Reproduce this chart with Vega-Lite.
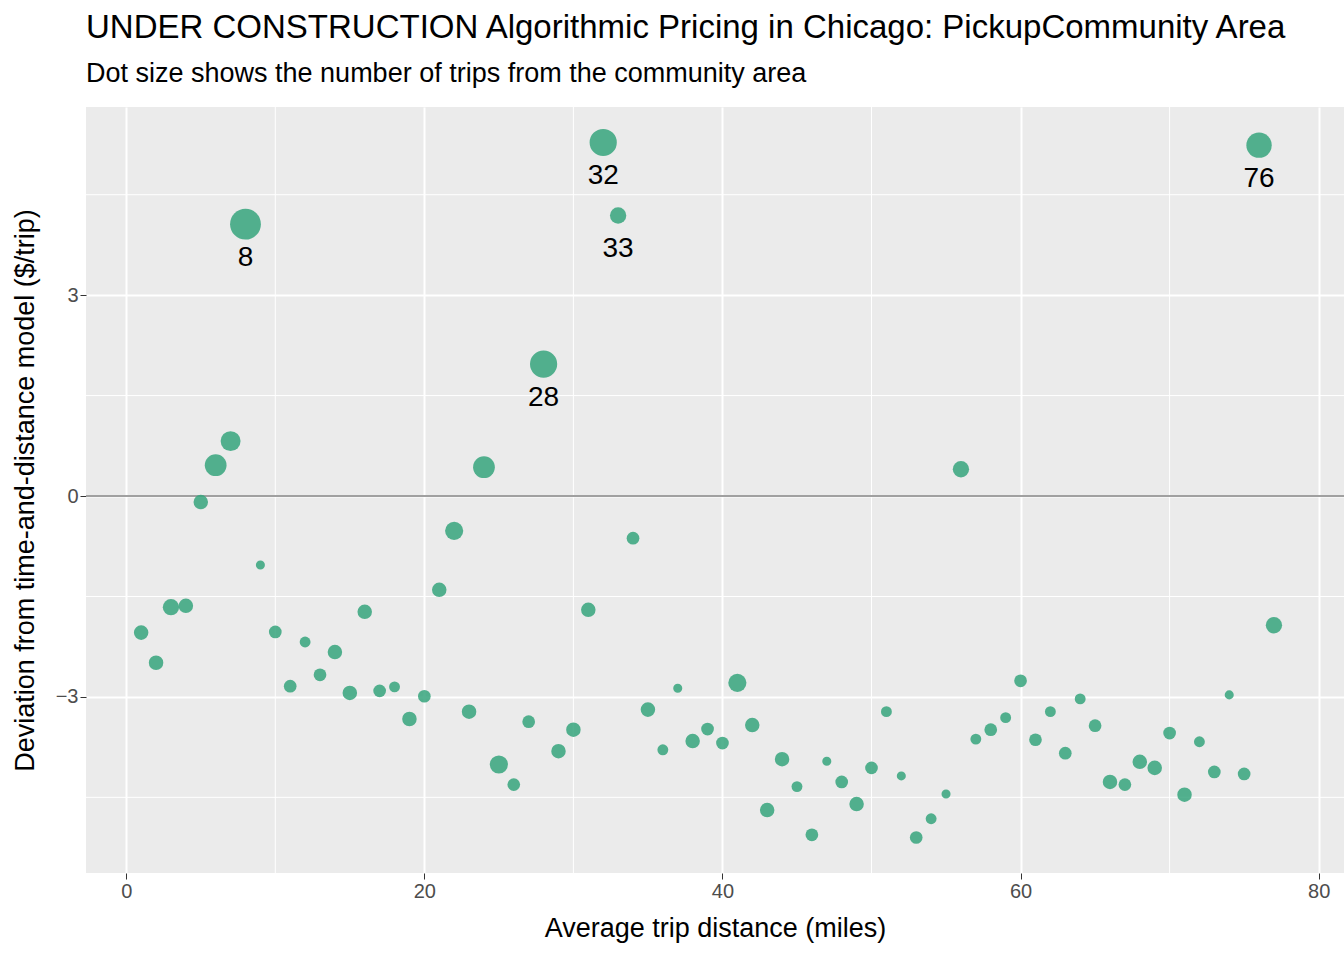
{
  "$schema": "https://vega.github.io/schema/vega-lite/v6.json",
  "autosize": "none",
  "width": 1258,
  "height": 766,
  "padding": {"left": 86, "top": 107, "right": 0, "bottom": 87},
  "config": {
    "font": "Liberation Sans",
    "view": {"fill": "#EBEBEB", "stroke": null},
    "axis": {"labelFontSize": 20, "labelColor": "#4D4D4D", "titleFontSize": 27, "titleFontWeight": "normal", "titleColor": "black", "tickColor": "#333333", "tickSize": 6, "domain": false, "gridColor": "white", "gridWidth": 2}
  },
  "title": {
    "text": "UNDER CONSTRUCTION Algorithmic Pricing in Chicago: PickupCommunity Area",
    "subtitle": "Dot size shows the number of trips from the community area",
    "anchor": "start", "frame": "group", "fontSize": 33, "fontWeight": "normal", "subtitleFontSize": 27, "subtitlePadding": 16, "offset": 20
  },
  "datasets": {
    "pts": [
      {"area":1,"dev":-2.04,"trips":6400},{"area":2,"dev":-2.49,"trips":6400},{"area":3,"dev":-1.66,"trips":8100},{"area":4,"dev":-1.64,"trips":6400},{"area":5,"dev":-0.09,"trips":6400},{"area":6,"dev":0.46,"trips":14400},{"area":7,"dev":0.82,"trips":12100},{"area":8,"dev":4.06,"trips":28900,"label":"8"},{"area":9,"dev":-1.03,"trips":2500},{"area":10,"dev":-2.03,"trips":4900},
      {"area":11,"dev":-2.84,"trips":4900},{"area":12,"dev":-2.18,"trips":3600},{"area":13,"dev":-2.67,"trips":4900},{"area":14,"dev":-2.33,"trips":6400},{"area":15,"dev":-2.94,"trips":6400},{"area":16,"dev":-1.73,"trips":6400},{"area":17,"dev":-2.91,"trips":4900},{"area":18,"dev":-2.85,"trips":3600},{"area":19,"dev":-3.33,"trips":6400},{"area":20,"dev":-2.99,"trips":4900},
      {"area":21,"dev":-1.4,"trips":6400},{"area":22,"dev":-0.52,"trips":10000},{"area":23,"dev":-3.22,"trips":6400},{"area":24,"dev":0.43,"trips":14400},{"area":25,"dev":-4.01,"trips":10000},{"area":26,"dev":-4.31,"trips":4900},{"area":27,"dev":-3.37,"trips":4900},{"area":28,"dev":1.97,"trips":22500,"label":"28"},{"area":29,"dev":-3.81,"trips":6400},{"area":30,"dev":-3.49,"trips":6400},
      {"area":31,"dev":-1.7,"trips":6400},{"area":32,"dev":5.28,"trips":22500,"label":"32"},{"area":33,"dev":4.19,"trips":8100,"label":"33"},{"area":34,"dev":-0.63,"trips":4900},{"area":35,"dev":-3.19,"trips":6400},{"area":36,"dev":-3.79,"trips":3600},{"area":37,"dev":-2.87,"trips":2500},{"area":38,"dev":-3.66,"trips":6400},{"area":39,"dev":-3.48,"trips":4900},{"area":40,"dev":-3.69,"trips":4900},
      {"area":41,"dev":-2.79,"trips":10000},{"area":42,"dev":-3.42,"trips":6400},{"area":43,"dev":-4.69,"trips":6400},{"area":44,"dev":-3.93,"trips":6400},{"area":45,"dev":-4.34,"trips":3600},{"area":46,"dev":-5.06,"trips":4900},{"area":47,"dev":-3.96,"trips":2500},{"area":48,"dev":-4.27,"trips":4900},{"area":49,"dev":-4.6,"trips":6400},{"area":50,"dev":-4.06,"trips":4900},
      {"area":51,"dev":-3.22,"trips":3600},{"area":52,"dev":-4.18,"trips":2500},{"area":53,"dev":-5.1,"trips":4900},{"area":54,"dev":-4.82,"trips":3600},{"area":55,"dev":-4.45,"trips":2500},{"area":56,"dev":0.4,"trips":8100},{"area":57,"dev":-3.63,"trips":3600},{"area":58,"dev":-3.49,"trips":4900},{"area":59,"dev":-3.31,"trips":3600},{"area":60,"dev":-2.76,"trips":4900},
      {"area":61,"dev":-3.64,"trips":4900},{"area":62,"dev":-3.22,"trips":3600},{"area":63,"dev":-3.84,"trips":4900},{"area":64,"dev":-3.03,"trips":3600},{"area":65,"dev":-3.43,"trips":4900},{"area":66,"dev":-4.27,"trips":6400},{"area":67,"dev":-4.31,"trips":4900},{"area":68,"dev":-3.97,"trips":6400},{"area":69,"dev":-4.06,"trips":6400},{"area":70,"dev":-3.54,"trips":4900},
      {"area":71,"dev":-4.46,"trips":6400},{"area":72,"dev":-3.67,"trips":3600},{"area":73,"dev":-4.12,"trips":4900},{"area":74,"dev":-2.97,"trips":2500},{"area":75,"dev":-4.15,"trips":4900},{"area":76,"dev":5.24,"trips":19600,"label":"76"},{"area":77,"dev":-1.93,"trips":8100}
    ],
    "minorx": [{"v":10},{"v":30},{"v":50},{"v":70}],
    "minory": [{"v":-4.5},{"v":-1.5},{"v":1.5},{"v":4.5}]
  },
  "layer": [
    {
      "data": {"name": "minorx"},
      "mark": {"type": "rule", "color": "white", "strokeWidth": 1},
      "encoding": {"x": {"field": "v", "type": "quantitative", "scale": {"domain": [-2.7, 81.7], "nice": false, "zero": false}}}
    },
    {
      "data": {"name": "minory"},
      "mark": {"type": "rule", "color": "white", "strokeWidth": 1},
      "encoding": {"y": {"field": "v", "type": "quantitative", "scale": {"domain": [-5.63, 5.81], "nice": false, "zero": false}}}
    },
    {
      "data": {"values": [{"v": 0}]},
      "mark": {"type": "rule", "color": "#A0A0A0", "strokeWidth": 2},
      "encoding": {"y": {"field": "v", "type": "quantitative"}}
    },
    {
      "data": {"name": "pts"},
      "mark": {"type": "circle", "color": "#36A47C", "opacity": 0.85},
      "encoding": {
        "x": {"field": "area", "type": "quantitative", "title": "Average trip distance (miles)", "axis": {"values": [0, 20, 40, 60, 80], "format": "d", "titlePadding": 14}},
        "y": {"field": "dev", "type": "quantitative", "title": "Deviation from time-and-distance model ($/trip)", "axis": {"values": [-3, 0, 3], "format": "d", "titlePadding": 16}},
        "size": {"field": "trips", "type": "quantitative", "legend": null, "scale": {"domain": [0, 28900], "range": [0, 950], "zero": true}}
      }
    },
    {
      "data": {"name": "pts"},
      "transform": [{"filter": "datum.label != null"}],
      "mark": {"type": "text", "fontSize": 28, "dy": 34, "color": "black"},
      "encoding": {
        "x": {"field": "area", "type": "quantitative"},
        "y": {"field": "dev", "type": "quantitative"},
        "text": {"field": "label"}
      }
    }
  ]
}
